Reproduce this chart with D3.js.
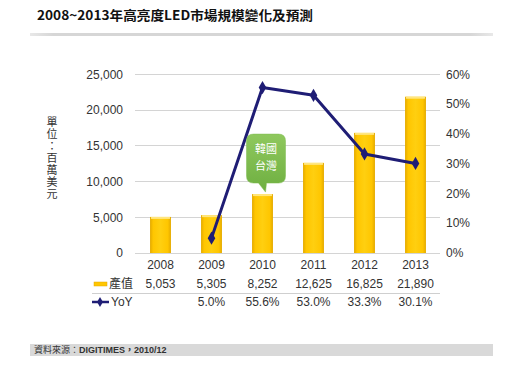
<!DOCTYPE html>
<html><head><meta charset="utf-8">
<script src="https://cdn.jsdelivr.net/npm/d3@7"></script>
<style>
html,body{margin:0;padding:0;background:#fff;}
svg{display:block;}
</style></head>
<body>
<svg id="c" width="515" height="365"></svg>
<script>
const years = ["2008","2009","2010","2011","2012","2013"];
const values = [5053, 5305, 8252, 12625, 16825, 21890];
const yoy = [null, 5.0, 55.6, 53.0, 33.3, 30.1];
const leftTicks = [0, 5000, 10000, 15000, 20000, 25000];
const rightTicks = [0, 10, 20, 30, 40, 50, 60];
const titleText = "2008~2013年高亮度LED市場規模變化及預測";
const unitText = "單位：百萬美元";
const calloutLines = ["韓國", "台灣"];
const sourceText = ["資料來源：", "DIGITIMES，2010/12"];

const LAT = "'Liberation Sans', Arial, 'Noto Sans CJK TC', sans-serif";
const CJK = "'Noto Sans CJK TC', 'Liberation Sans', sans-serif";
const svg = d3.select("#c");
const defs = svg.append("defs");

const barG = defs.append("linearGradient").attr("id","barG").attr("x1","0").attr("x2","1").attr("y1","0").attr("y2","0");
barG.append("stop").attr("offset","0").attr("stop-color","#E3A900");
barG.append("stop").attr("offset","0.15").attr("stop-color","#FFC600");
barG.append("stop").attr("offset","0.5").attr("stop-color","#FFCF10");
barG.append("stop").attr("offset","0.85").attr("stop-color","#FFC600");
barG.append("stop").attr("offset","1").attr("stop-color","#E3A900");

const greenG = defs.append("linearGradient").attr("id","greenG").attr("x1","0").attr("x2","0").attr("y1","0").attr("y2","1");
greenG.append("stop").attr("offset","0").attr("stop-color","#8FC85E");
greenG.append("stop").attr("offset","1").attr("stop-color","#6EAF40");

const lineG = defs.append("linearGradient").attr("id","lineG").attr("x1","0").attr("x2","1");
lineG.append("stop").attr("offset","0").attr("stop-color","#e8e8e8");
lineG.append("stop").attr("offset","0.05").attr("stop-color","#d6d6d6");
lineG.append("stop").attr("offset","0.95").attr("stop-color","#d6d6d6");
lineG.append("stop").attr("offset","1").attr("stop-color","#e8e8e8");

// Title
svg.append("text").attr("x",37).attr("y",20)
  .attr("font-family",CJK).attr("font-weight","bold").attr("font-size",13)
  .attr("fill","#111").attr("textLength",276).attr("lengthAdjust","spacingAndGlyphs")
  .text(titleText);
svg.append("rect").attr("x",30).attr("y",33).attr("width",463).attr("height",3).attr("fill","url(#lineG)");

// Scales
const x = d3.scaleBand().domain(years).range([135, 441]).paddingInner(0.59).paddingOuter(0.295);
const cx = d => x(d) + x.bandwidth()/2;
const yL = d3.scaleLinear().domain([0,25000]).range([253, 74.5]);
const yR = d3.scaleLinear().domain([0,60]).range([253, 74.5]);

// Grid
svg.append("g").selectAll("line").data(leftTicks).join("line")
  .attr("x1",135).attr("x2",440).attr("y1",d=>yL(d)).attr("y2",d=>yL(d))
  .attr("stroke","#d4d4d4").attr("stroke-width",1).attr("shape-rendering","crispEdges");

// Left axis labels
const fmt = d3.format(",");
svg.append("g").selectAll("text").data(leftTicks).join("text")
  .attr("x",123).attr("y",d=>yL(d)).attr("dy","0.35em").attr("text-anchor","end")
  .attr("font-family",LAT).attr("font-size",12).attr("fill","#333").text(d=>fmt(d));

// Right axis labels
svg.append("g").selectAll("text").data(rightTicks).join("text")
  .attr("x",446).attr("y",d=>yR(d)).attr("dy","0.35em").attr("text-anchor","start")
  .attr("font-family",LAT).attr("font-size",12).attr("fill","#333").text(d=>d+"%");

// Unit label (vertical)
svg.append("text").attr("x",52).attr("y",116)
  .attr("font-family",CJK).attr("font-size",11).attr("fill","#333")
  .attr("text-anchor","start")
  .style("writing-mode","vertical-rl").style("glyph-orientation-vertical","0")
  .attr("letter-spacing",1)
  .text(unitText);

// Bars
const bars = svg.append("g");
bars.selectAll("rect.b").data(values).join("rect").attr("class","b")
  .attr("x",(d,i)=>x(years[i])).attr("width",x.bandwidth())
  .attr("y",d=>yL(d)).attr("height",d=>yL(0)-yL(d))
  .attr("fill","url(#barG)");
bars.selectAll("rect.h").data(values).join("rect").attr("class","h")
  .attr("x",(d,i)=>x(years[i])+1).attr("width",x.bandwidth()-2)
  .attr("y",d=>yL(d)).attr("height",2)
  .attr("fill","#FFE680");

// Line
const pts = yoy.map((v,i)=>({v, yr: years[i]})).filter(p=>p.v!=null);
svg.append("path").datum(pts)
  .attr("d", d3.line().x(p=>cx(p.yr)).y(p=>yR(p.v)))
  .attr("fill","none").attr("stroke","#1F1D75").attr("stroke-width",3).attr("stroke-linejoin","round");
svg.append("g").selectAll("path").data(pts).join("path")
  .attr("d", d3.symbol().type(d3.symbolDiamond).size(50))
  .attr("transform", p=>`translate(${cx(p.yr)},${yR(p.v)})`)
  .attr("fill","#1F1D75");

// Callout
const bx = cx("2010"), by = yL(values[2]);
const L = bx-16, R = bx+23, T = by-60, B = by-11, r = 7;
const tipX = bx+3, tipY = by-2;
const cp = `M${L+r},${T} H${R-r} Q${R},${T} ${R},${T+r} V${B-r} Q${R},${B} ${R-r},${B} H${bx+4} L${tipX},${tipY} L${bx-4},${B} H${L+r} Q${L},${B} ${L},${B-r} V${T+r} Q${L},${T} ${L+r},${T} Z`;
svg.append("path").attr("d",cp).attr("fill","url(#greenG)").attr("stroke","#7DBA4E").attr("stroke-width",0.5);
svg.append("g").selectAll("text").data(calloutLines).join("text")
  .attr("x",(L+R)/2).attr("y",(d,i)=>T+15+i*17).attr("dy","0.35em").attr("text-anchor","middle")
  .attr("font-family",CJK).attr("font-size",11).attr("fill","#fff").text(d=>d);

// Data table
svg.append("g").selectAll("text").data(years).join("text")
  .attr("x",d=>cx(d)).attr("y",265).attr("dy","0.35em").attr("text-anchor","middle")
  .attr("font-family",LAT).attr("font-size",12).attr("fill","#333").text(d=>d);
svg.append("g").selectAll("text").data(values).join("text")
  .attr("x",(d,i)=>cx(years[i])).attr("y",284).attr("dy","0.35em").attr("text-anchor","middle")
  .attr("font-family",LAT).attr("font-size",12).attr("fill","#333").text(d=>fmt(d));
svg.append("g").selectAll("text").data(pts).join("text")
  .attr("x",p=>cx(p.yr)).attr("y",302).attr("dy","0.35em").attr("text-anchor","middle")
  .attr("font-family",LAT).attr("font-size",12).attr("fill","#333").text(p=>p.v.toFixed(1)+"%");
svg.append("line").attr("x1",92).attr("x2",440).attr("y1",293.5).attr("y2",293.5)
  .attr("stroke","#cfcfcf").attr("stroke-width",1);

// Legend in table
svg.append("rect").attr("x",94).attr("y",282).attr("width",13).attr("height",4).attr("fill","#FFC600").attr("stroke","#E3A900").attr("stroke-width",0.5);
svg.append("text").attr("x",109).attr("y",284).attr("dy","0.35em")
  .attr("font-family",CJK).attr("font-size",12).attr("fill","#333").text("產值");
svg.append("line").attr("x1",92).attr("x2",109).attr("y1",302).attr("y2",302).attr("stroke","#1F1D75").attr("stroke-width",2.5);
svg.append("path").attr("d",d3.symbol().type(d3.symbolDiamond).size(30)).attr("transform","translate(100,302)").attr("fill","#1F1D75");
svg.append("text").attr("x",111).attr("y",302).attr("dy","0.35em")
  .attr("font-family",LAT).attr("font-size",12).attr("fill","#333").text("YoY");

// Source bar
svg.append("rect").attr("x",30).attr("y",344).attr("width",463).attr("height",12).attr("fill","#d9d9d9");
const st = svg.append("text").attr("x",34).attr("y",350).attr("dy","0.35em")
  .attr("font-size",9).attr("fill","#333");
st.append("tspan").attr("font-family",CJK).text(sourceText[0]);
st.append("tspan").attr("font-family",LAT).attr("font-weight","bold").text(sourceText[1]);
</script>
</body></html>
